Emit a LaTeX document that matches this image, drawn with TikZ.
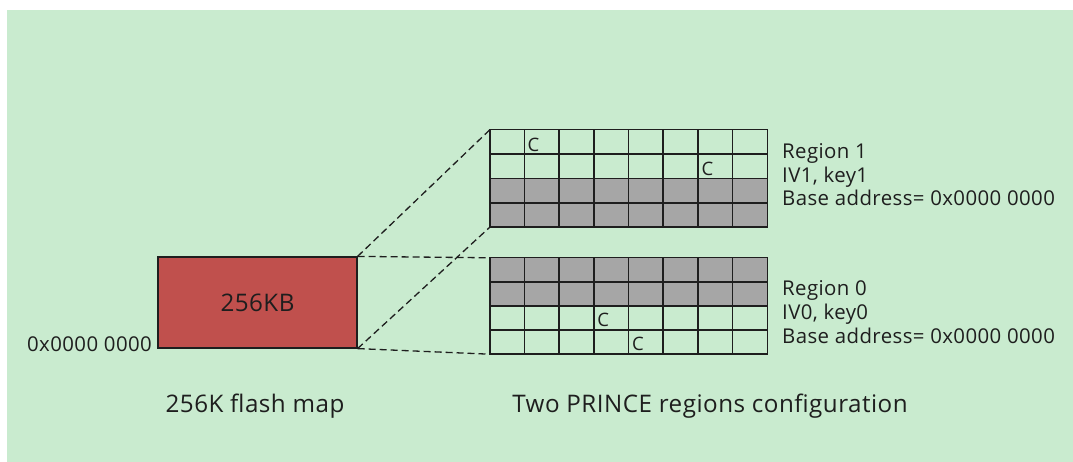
\documentclass[tikz,border=0pt]{standalone}
\usepackage{fontspec}
\setmainfont{Open Sans}[LetterSpace=2]
\usetikzlibrary{positioning,calc}
\definecolor{bggreen}{RGB}{201,235,207}
\definecolor{flashred}{RGB}{192,80,77}
\definecolor{cellgray}{RGB}{166,166,166}
\definecolor{inkdark}{RGB}{30,30,30}
\begin{document}
\begin{tikzpicture}[
                    x=1pt, y=1pt,
                    flashbox/.style={draw=inkdark, line width=1.2pt, fill=flashred, rectangle, minimum width=199pt, minimum height=91pt, inner sep=0pt, font=\fontsize{24.2}{29}\selectfont, text=inkdark},
                    regbox/.style={rectangle, minimum width=277pt, inner sep=0pt},
                    gridline/.style={draw=inkdark, line width=1.4pt},
                    cmark/.style={anchor=base west, inner sep=0pt, font=\fontsize{18.5}{22}\selectfont, text=inkdark},
                    lbl/.style={anchor=base west, inner sep=0pt, font=\fontsize{20.4}{24}\selectfont, text=inkdark},
                    caption/.style={anchor=base, inner sep=0pt, font=\fontsize{24.2}{29}\selectfont, text=inkdark},
                    zoomline/.style={draw=inkdark, dashed, dash pattern=on 7pt off 4pt, line width=1.3pt}
                    ]

                    \useasboundingbox (0,0) rectangle (1073,462);
                    \fill[bggreen] (7,0) rectangle (1073,452);

                    \node [flashbox] (flash) at (257.5,159.5) {256KB};
                    \node [lbl, anchor=base east] (addr) at (152,110) {0x0000 0000};

                    \node [regbox, minimum height=97pt] (reg1) at (628.5,283.5) {};
                    \node [regbox, minimum height=96pt] (reg0) at (628.5,156) {};

                    \fill[cellgray] (reg1.west) rectangle (reg1.south east);
                    \fill[cellgray] (reg0.north west) rectangle (reg0.east);
                    \foreach \r in {reg1,reg0} {
                        \foreach \k in {1,...,7}
                            \draw[gridline] ($(\r.north west)!\k/8!(\r.north east)$) -- ($(\r.south west)!\k/8!(\r.south east)$);
                        \foreach \k in {1,2,3}
                            \draw[gridline] ($(\r.north west)!\k/4!(\r.south west)$) -- ($(\r.north east)!\k/4!(\r.south east)$);
                        \draw[gridline] (\r.south west) rectangle (\r.north east);
                    }

                    \node [cmark] (c1) at ($(reg1.north west)+(37.6,-21.25)$) {C};
                    \node [cmark] (c2) at ($(reg1.north west)+(211.5,-45.5)$) {C};
                    \node [cmark] (c3) at ($(reg0.north west)+(107.4,-69)$) {C};
                    \node [cmark] (c4) at ($(reg0.north west)+(142,-93)$) {C};

                    \node [lbl] (r1name) at (782,303.7) {Region 1};
                    \node [lbl] (r1key) at (782,279.7) {IV1, key1};
                    \node [lbl] (r1base) at (782,256) {Base address= 0x0000 0000};
                    \node [lbl] (r0name) at (782,166.3) {Region 0};
                    \node [lbl] (r0key) at (782,142.3) {IV0, key0};
                    \node [lbl] (r0base) at (782,118.7) {Base address= 0x0000 0000};

                    \node [caption] (mapcap) at (255,49) {256K flash map};
                    \node [caption] (regcap) at (710,49) {Two PRINCE regions configuration};

                    \draw[zoomline] (flash.north east) -- (reg1.north west);
                    \draw[zoomline] (flash.south east) -- (reg1.south west);
                    \draw[zoomline] (flash.north east) -- (reg0.north west);
                    \draw[zoomline] (flash.south east) -- (reg0.south west);
                \end{tikzpicture}
\end{document}
